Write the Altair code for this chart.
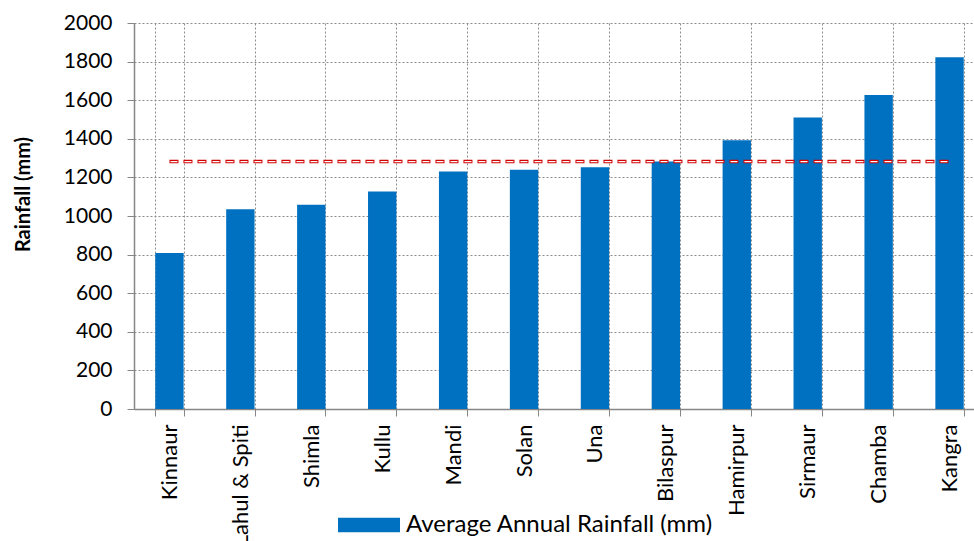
import altair as alt
import pandas as pd

# District-wise average annual rainfall, Himachal Pradesh (mm)
districts = ["Kinnaur", "Lahul & Spiti", "Shimla", "Kullu", "Mandi", "Solan",
             "Una", "Bilaspur", "Hamirpur", "Sirmaur", "Chamba", "Kangra"]
rainfall = [808, 1035, 1058, 1127, 1231, 1240, 1252, 1283, 1392, 1511, 1627, 1823]
series_name = "Average Annual Rainfall (mm)"
y_ticks = list(range(0, 2001, 200))

df = pd.DataFrame({"district": districts, "rainfall": rainfall})
df["series"] = series_name
df["state_avg"] = df["rainfall"].mean()

FONT = "Lato"
GRID = "#8c8c8c"
AXIS = "#868686"

x_scale = alt.Scale(range=[0, 851], paddingInner=0.6, paddingOuter=0.3)
y_scale = alt.Scale(domain=[0, 2000], nice=False)

x_axis = alt.Axis(labelAngle=-90, labelFontSize=22, labelFont=FONT, labelColor="black",
                  labelPadding=8, tickBand="extent", tickSize=7, tickColor=AXIS,
                  domainColor=AXIS, domainWidth=1.5, grid=True, gridColor=GRID,
                  gridDash=[2, 2], gridWidth=1, labelLimit=300)
y_axis = alt.Axis(values=y_ticks, format="d", labelOverlap=False,
                  labelFontSize=21, labelFont=FONT,
                  labelColor="black", labelPadding=15, tickSize=7,
                  tickColor=AXIS, domainColor=AXIS, domainWidth=1.5,
                  gridColor=GRID, gridDash=[2, 2], gridWidth=1,
                  titleFont=FONT, titleFontSize=20, titleFontWeight="bold",
                  titleColor="black", titlePadding=30, titleY=171)

x_enc = alt.X("district:N", sort=districts, title=None, scale=x_scale, axis=x_axis)

bars = alt.Chart(df).mark_bar(opacity=1).encode(
    x=x_enc,
    y=alt.Y("rainfall:Q", scale=y_scale, title="Rainfall (mm)", axis=y_axis),
    color=alt.Color("series:N", scale=alt.Scale(range=["#0070C0"]),
                    legend=alt.Legend(title=None, orient="none", legendX=204, legendY=471,
                                      symbolType="M-1,-0.23H1V0.23H-1Z", symbolSize=3844,
                                      symbolStrokeWidth=0, symbolOpacity=1,
                                      labelFont=FONT, labelFontSize=24, labelColor="black",
                                      labelLimit=500, labelOffset=6, padding=0)),
)

# State average drawn as a red dashed line with a white core
avg_y = alt.Y("state_avg:Q", scale=y_scale, title="Rainfall (mm)", axis=y_axis)
avg_outer = alt.Chart(df).mark_line(color="#D00000", strokeWidth=3.6,
                                    strokeDash=[9, 5], strokeCap="butt").encode(
    x=x_enc, y=avg_y,
)
avg_inner = alt.Chart(df).mark_line(color="white", strokeWidth=1.2,
                                    strokeDash=[7, 7], strokeDashOffset=-1,
                                    strokeCap="butt").encode(
    x=x_enc, y=avg_y,
)

chart = alt.layer(bars, avg_outer, avg_inner).properties(
    width=840, height=386,
    autosize=alt.AutoSizeParams(type="none"),
    padding={"left": 134, "top": 23, "right": 0, "bottom": 132},
    background="white",
).configure_view(stroke=None)

chart.save("out.html", embed_options={"renderer": "svg", "actions": False})
